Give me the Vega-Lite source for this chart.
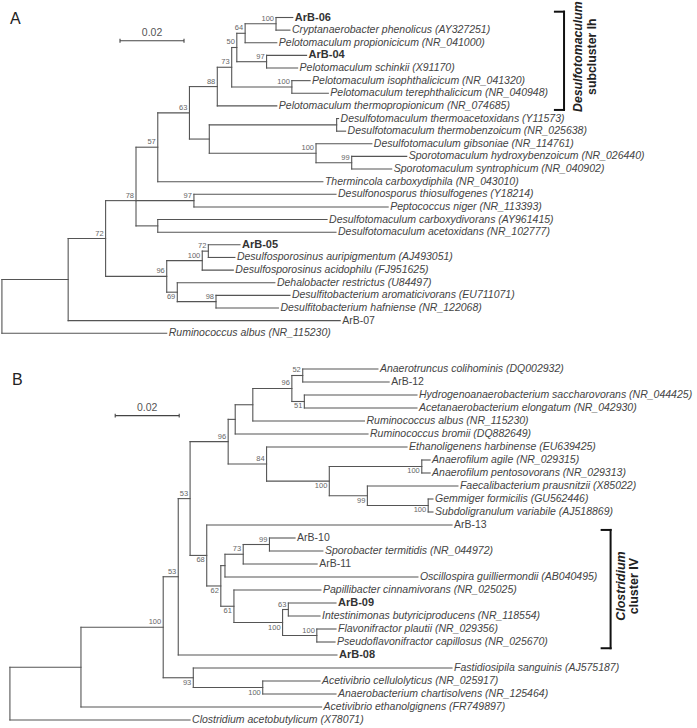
{
  "$schema": "https://vega.github.io/schema/vega-lite/v6.json",
  "padding": 0,
  "spacing": 0,
  "background": "white",
  "config": {"view": {"stroke": null}, "text": {"font": "Liberation Sans"}},
  "resolve": {"scale": {"x": "independent", "y": "independent"}},
  "datasets": {
    "treeA": [
      {"id":"rA","parent":null,"x":0.6,"y":22.875},
      {"id":"a1","parent":"rA","x":21.3,"y":20.75},
      {"id":"L25","parent":"rA","x":52.1,"y":25,"label":"Ruminococcus albus (NR_115230)","kind":"taxon"},
      {"id":"a72","parent":"a1","x":33.0,"y":17.5,"boot":72,"bpos":"above"},
      {"id":"L24","parent":"a1","x":106.3,"y":24,"label":"ArB-07","kind":"isolate"},
      {"id":"a78","parent":"a72","x":42.5,"y":14.5,"boot":78,"bpos":"above"},
      {"id":"a96","parent":"a72","x":52.1,"y":20.5,"boot":96,"bpos":"above"},
      {"id":"a57","parent":"a78","x":49.3,"y":10.27,"boot":57,"bpos":"above"},
      {"id":"a97b","parent":"a78","x":60.6,"y":14.5,"boot":97,"bpos":"above"},
      {"id":"aCarb","parent":"a78","x":49.3,"y":16.5},
      {"id":"a63","parent":"a57","x":59.2,"y":7.55,"boot":63,"bpos":"above"},
      {"id":"L13","parent":"a57","x":100.9,"y":13,"label":"Thermincola carboxydiphila (NR_043010)","kind":"taxon"},
      {"id":"L14","parent":"a97b","x":105,"y":14,"label":"Desulfonosporus thiosulfogenes (Y18214)","kind":"taxon"},
      {"id":"L15","parent":"a97b","x":121.3,"y":15,"label":"Peptococcus niger (NR_113393)","kind":"taxon"},
      {"id":"L16","parent":"aCarb","x":102.2,"y":16,"label":"Desulfotomaculum carboxydivorans (AY961415)","kind":"taxon"},
      {"id":"L17","parent":"aCarb","x":105,"y":17,"label":"Desulfotomaculum acetoxidans (NR_102777)","kind":"taxon"},
      {"id":"a88","parent":"a63","x":67.9,"y":5.47,"boot":88,"bpos":"above"},
      {"id":"aD","parent":"a63","x":65.4,"y":9.625},
      {"id":"aTh","parent":"aD","x":105.2,"y":8.5},
      {"id":"L8","parent":"aTh","x":105.8,"y":8,"label":"Desulfotomaculum thermoacetoxidans (Y11573)","kind":"taxon"},
      {"id":"L9","parent":"aTh","x":108,"y":9,"label":"Desulfotomaculum thermobenzoicum (NR_025638)","kind":"taxon"},
      {"id":"a100c","parent":"aD","x":98.75,"y":10.75,"boot":100,"bpos":"above"},
      {"id":"L10","parent":"a100c","x":116.2,"y":10,"label":"Desulfotomaculum gibsoniae (NR_114761)","kind":"taxon"},
      {"id":"a99","parent":"a100c","x":109.9,"y":11.5,"boot":99,"bpos":"above"},
      {"id":"L11","parent":"a99","x":127.1,"y":11,"label":"Sporotomaculum hydroxybenzoicum (NR_026440)","kind":"taxon"},
      {"id":"L12","parent":"a99","x":122.4,"y":12,"label":"Sporotomaculum syntrophicum (NR_040902)","kind":"taxon"},
      {"id":"a73","parent":"a88","x":72.4,"y":3.94,"boot":73,"bpos":"above"},
      {"id":"L7","parent":"a88","x":86.5,"y":7,"label":"Pelotomaculum thermopropionicum (NR_074685)","kind":"taxon"},
      {"id":"a50","parent":"a73","x":74.0,"y":2.375,"boot":50,"bpos":"above"},
      {"id":"a100b","parent":"a73","x":91.2,"y":5.5,"boot":100,"bpos":"above"},
      {"id":"L5","parent":"a100b","x":96.9,"y":5,"label":"Pelotomaculum isophthalicicum (NR_041320)","kind":"taxon"},
      {"id":"L6","parent":"a100b","x":102.6,"y":6,"label":"Pelotomaculum terephthalicicum (NR_040948)","kind":"taxon"},
      {"id":"a64","parent":"a50","x":76.6,"y":1.25,"boot":64,"bpos":"above"},
      {"id":"a97a","parent":"a50","x":83.3,"y":3.5,"boot":97,"bpos":"above"},
      {"id":"a100a","parent":"a64","x":86.25,"y":0.5,"boot":100,"bpos":"above"},
      {"id":"L2","parent":"a64","x":86.5,"y":2,"label":"Pelotomaculum propionicicum (NR_041000)","kind":"taxon"},
      {"id":"L0","parent":"a100a","x":91.5,"y":0,"label":"ArB-06","kind":"isolate_key"},
      {"id":"L1","parent":"a100a","x":90.6,"y":1,"label":"Cryptanaerobacter phenolicus (AY327251)","kind":"taxon"},
      {"id":"L3","parent":"a97a","x":95.8,"y":3,"label":"ArB-04","kind":"isolate_key"},
      {"id":"L4","parent":"a97a","x":93.0,"y":4,"label":"Pelotomaculum schinkii (X91170)","kind":"taxon"},
      {"id":"a100d","parent":"a96","x":63.2,"y":19.25,"boot":100,"bpos":"above"},
      {"id":"a69","parent":"a96","x":55.4,"y":21.75,"boot":69,"bpos":"below"},
      {"id":"a72b","parent":"a100d","x":65.1,"y":18.5,"boot":72,"bpos":"above"},
      {"id":"L20","parent":"a100d","x":72.9,"y":20,"label":"Desulfosporosinus acidophilu (FJ951625)","kind":"taxon"},
      {"id":"L18","parent":"a72b","x":75,"y":18,"label":"ArB-05","kind":"isolate_key"},
      {"id":"L19","parent":"a72b","x":73.4,"y":19,"label":"Desulfosporosinus auripigmentum (AJ493051)","kind":"taxon"},
      {"id":"L21","parent":"a69","x":85.9,"y":21,"label":"Dehalobacter restrictus (U84497)","kind":"taxon"},
      {"id":"a98","parent":"a69","x":67.5,"y":22.5,"boot":98,"bpos":"above"},
      {"id":"L22","parent":"a98","x":90.6,"y":22,"label":"Desulfitobacterium aromaticivorans (EU711071)","kind":"taxon"},
      {"id":"L23","parent":"a98","x":87.0,"y":23,"label":"Desulfitobacterium hafniense (NR_122068)","kind":"taxon"}
    ],
    "treeB": [
      {"id":"rB","parent":null,"x":3.1,"y":24.97},
      {"id":"bE","parent":"rB","x":25.3,"y":22.94},
      {"id":"M27","parent":"rB","x":59.4,"y":27,"label":"Clostridium acetobutylicum (X78071)","kind":"taxon"},
      {"id":"b100big","parent":"bE","x":51.0,"y":19.87,"boot":100,"bpos":"above"},
      {"id":"M26","parent":"bE","x":100.5,"y":26,"label":"Acetivibrio ethanolgignens (FR749897)","kind":"taxon"},
      {"id":"b53b","parent":"b100big","x":55.7,"y":15.98,"boot":53,"bpos":"above"},
      {"id":"b93","parent":"b100big","x":60.4,"y":23.75,"boot":93,"bpos":"below"},
      {"id":"b53a","parent":"b53b","x":59.4,"y":9.97,"boot":53,"bpos":"above"},
      {"id":"M22","parent":"b53b","x":105.3,"y":22,"label":"ArB-08","kind":"isolate_key"},
      {"id":"M23","parent":"b93","x":141.25,"y":23,"label":"Fastidiosipila sanguinis (AJ575187)","kind":"taxon"},
      {"id":"b100A2","parent":"b93","x":82.1,"y":24.5,"boot":100,"bpos":"below"},
      {"id":"M24","parent":"b100A2","x":100,"y":24,"label":"Acetivibrio cellulolyticus (NR_025917)","kind":"taxon"},
      {"id":"M25","parent":"b100A2","x":105,"y":25,"label":"Anaerobacterium chartisolvens (NR_125464)","kind":"taxon"},
      {"id":"b96b","parent":"b53a","x":71.3,"y":5.59,"boot":96,"bpos":"above"},
      {"id":"b68","parent":"b53a","x":64.6,"y":14.34,"boot":68,"bpos":"below"},
      {"id":"bR2","parent":"b96b","x":73.5,"y":3.875},
      {"id":"b84","parent":"b96b","x":83.3,"y":7.31,"boot":84,"bpos":"above"},
      {"id":"bR1","parent":"bR2","x":79.0,"y":2.75},
      {"id":"M5","parent":"bR2","x":115,"y":5,"label":"Ruminococcus bromii (DQ882649)","kind":"taxon"},
      {"id":"b96a","parent":"bR1","x":91.2,"y":1.5,"boot":96,"bpos":"above"},
      {"id":"M4","parent":"bR1","x":113.9,"y":4,"label":"Ruminococcus albus (NR_115230)","kind":"taxon"},
      {"id":"b52","parent":"b96a","x":94.6,"y":0.5,"boot":52,"bpos":"above"},
      {"id":"b51","parent":"b96a","x":95.1,"y":2.5,"boot":51,"bpos":"below"},
      {"id":"M0","parent":"b52","x":118.1,"y":0,"label":"Anaerotruncus colihominis (DQ002932)","kind":"taxon"},
      {"id":"M1","parent":"b52","x":121.6,"y":1,"label":"ArB-12","kind":"isolate"},
      {"id":"M2","parent":"b51","x":130.3,"y":2,"label":"Hydrogenoanaerobacterium saccharovorans (NR_044425)","kind":"taxon"},
      {"id":"M3","parent":"b51","x":130.3,"y":3,"label":"Acetanaerobacterium elongatum (NR_042930)","kind":"taxon"},
      {"id":"M6","parent":"b84","x":127.2,"y":6,"label":"Ethanoligenens harbinense (EU639425)","kind":"taxon"},
      {"id":"b100y","parent":"b84","x":102.9,"y":8.625,"boot":100,"bpos":"below"},
      {"id":"b100A","parent":"b100y","x":131.8,"y":7.5,"boot":100,"bpos":"below"},
      {"id":"b99","parent":"b100y","x":114.8,"y":9.75,"boot":99,"bpos":"below"},
      {"id":"M7","parent":"b100A","x":134.4,"y":7,"label":"Anaerofilum agile (NR_029315)","kind":"taxon"},
      {"id":"M8","parent":"b100A","x":134.4,"y":8,"label":"Anaerofilum pentosovorans (NR_029313)","kind":"taxon"},
      {"id":"M9","parent":"b99","x":143.1,"y":9,"label":"Faecalibacterium prausnitzii (X85022)","kind":"taxon"},
      {"id":"b100G","parent":"b99","x":133.8,"y":10.5,"boot":100,"bpos":"below"},
      {"id":"M10","parent":"b100G","x":135.3,"y":10,"label":"Gemmiger formicilis (GU562446)","kind":"taxon"},
      {"id":"M11","parent":"b100G","x":135.3,"y":11,"label":"Subdoligranulum variabile (AJ518869)","kind":"taxon"},
      {"id":"M12","parent":"b68","x":141.25,"y":12,"label":"ArB-13","kind":"isolate"},
      {"id":"b62","parent":"b68","x":69.0,"y":16.69,"boot":62,"bpos":"below"},
      {"id":"bO","parent":"b62","x":70.3,"y":15.125},
      {"id":"b61","parent":"b62","x":73.1,"y":18.25,"boot":61,"bpos":"below"},
      {"id":"b73","parent":"bO","x":76.0,"y":14.25,"boot":73,"bpos":"above"},
      {"id":"M16","parent":"bO","x":130.6,"y":16,"label":"Oscillospira guilliermondii (AB040495)","kind":"taxon"},
      {"id":"b99s","parent":"b73","x":84.2,"y":13.5,"boot":99,"bpos":"above"},
      {"id":"M15","parent":"b73","x":99.1,"y":15,"label":"ArB-11","kind":"isolate"},
      {"id":"M13","parent":"b99s","x":92.2,"y":13,"label":"ArB-10","kind":"isolate"},
      {"id":"M14","parent":"b99s","x":100.9,"y":14,"label":"Sporobacter termitidis (NR_044972)","kind":"taxon"},
      {"id":"M17","parent":"b61","x":100.3,"y":17,"label":"Papillibacter cinnamivorans (NR_025025)","kind":"taxon"},
      {"id":"b100I","parent":"b61","x":88.3,"y":19.5,"boot":100,"bpos":"below"},
      {"id":"b63","parent":"b100I","x":90.1,"y":18.5,"boot":63,"bpos":"above"},
      {"id":"b100F","parent":"b100I","x":99.0,"y":20.5,"boot":100,"bpos":"above"},
      {"id":"M18","parent":"b63","x":105,"y":18,"label":"ArB-09","kind":"isolate_key"},
      {"id":"M19","parent":"b63","x":100,"y":19,"label":"Intestinimonas butyriciproducens (NR_118554)","kind":"taxon"},
      {"id":"M20","parent":"b100F","x":105,"y":20,"label":"Flavonifractor plautii (NR_029356)","kind":"taxon"},
      {"id":"M21","parent":"b100F","x":104.7,"y":21,"label":"Pseudoflavonifractor capillosus (NR_025670)","kind":"taxon"}
    ],
    "annA": [
      {"kind":"scalebar","x":37.5,"x2":57.5,"y":1.84,"y2":1.84},
      {"kind":"scalebar","x":37.5,"x2":37.5,"y":1.68,"y2":2.0},
      {"kind":"scalebar","x":57.5,"x2":57.5,"y":1.68,"y2":2.0},
      {"kind":"bracket","x":173.4,"x2":176.25,"y":-0.46,"y2":-0.46},
      {"kind":"bracket","x":176.25,"x2":176.25,"y":-0.46,"y2":7.32},
      {"kind":"bracket","x":173.4,"x2":176.25,"y":7.32,"y2":7.32},
      {"kind":"scalelabel","x":47.5,"y":1.84,"text":"0.02"},
      {"kind":"panel","x":4.8,"y":0.1,"text":"A"},
      {"kind":"cladeName","x":180.6,"y":3.1,"text":"Desulfotomaculum"},
      {"kind":"cladeRank","x":185.0,"y":3.1,"text":"subcluster Ih"}
    ],
    "annB": [
      {"kind":"scalebar","x":36,"x2":56,"y":3.59,"y2":3.59},
      {"kind":"scalebar","x":36,"x2":36,"y":3.44,"y2":3.74},
      {"kind":"scalebar","x":56,"x2":56,"y":3.44,"y2":3.74},
      {"kind":"bracket","x":188.0,"x2":190.8,"y":12.38,"y2":12.38},
      {"kind":"bracket","x":190.8,"x2":190.8,"y":12.38,"y2":21.48},
      {"kind":"bracket","x":188.0,"x2":190.8,"y":21.48,"y2":21.48},
      {"kind":"scalelabel","x":46,"y":3.59,"text":"0.02"},
      {"kind":"panel","x":5.4,"y":0.85,"text":"B"},
      {"kind":"cladeName","x":194.1,"y":16.7,"text":"Clostridium"},
      {"kind":"cladeRank","x":198.1,"y":16.7,"text":"cluster IV"}
    ]
  },
  "vconcat": [
    {
      "width": 697,
      "height": 360,
      "layer": [
        {
          "data": {"name": "treeA"},
          "transform": [
            {"filter": "datum.parent != null"},
            {"lookup": "parent", "from": {"data": {"name": "treeA"}, "key": "id", "fields": ["x"]}, "as": ["px"]}
          ],
          "mark": {"type": "rule", "color": "#555555", "strokeWidth": 1.1, "strokeCap": "square"},
          "encoding": {
            "x": {"field": "px", "type": "quantitative", "scale": {"domain": [0, 217.8], "nice": false, "zero": false}, "axis": null},
            "x2": {"field": "x"},
            "y": {"field": "y", "type": "quantitative", "scale": {"domain": [-1.386, 27.12], "nice": false, "zero": false, "reverse": true}, "axis": null}
          }
        },
        {
          "data": {"name": "treeA"},
          "transform": [
            {"filter": "datum.parent != null"},
            {"aggregate": [{"op": "min", "field": "y", "as": "y1"}, {"op": "max", "field": "y", "as": "y2"}], "groupby": ["parent"]},
            {"lookup": "parent", "from": {"data": {"name": "treeA"}, "key": "id", "fields": ["x"]}, "as": ["nx"]}
          ],
          "mark": {"type": "rule", "color": "#555555", "strokeWidth": 1.1, "strokeCap": "square"},
          "encoding": {
            "x": {"field": "nx", "type": "quantitative", "scale": {"domain": [0, 217.8], "nice": false, "zero": false}, "axis": null},
            "y": {"field": "y1", "type": "quantitative", "scale": {"domain": [-1.386, 27.12], "nice": false, "zero": false, "reverse": true}, "axis": null},
            "y2": {"field": "y2"}
          }
        },
        {
          "data": {"name": "treeA"},
          "transform": [{"filter": "datum.bpos == 'above'"}],
          "mark": {"type": "text", "align": "right", "baseline": "bottom", "dx": -2, "dy": -1, "fontSize": 7.5, "color": "#666666"},
          "encoding": {
            "x": {"field": "x", "type": "quantitative", "scale": {"domain": [0, 217.8], "nice": false, "zero": false}, "axis": null},
            "y": {"field": "y", "type": "quantitative", "scale": {"domain": [-1.386, 27.12], "nice": false, "zero": false, "reverse": true}, "axis": null},
            "text": {"field": "boot", "type": "quantitative", "format": "d"}
          }
        },
        {
          "data": {"name": "treeA"},
          "transform": [{"filter": "datum.bpos == 'below'"}],
          "mark": {"type": "text", "align": "right", "baseline": "top", "dx": -2, "dy": 1, "fontSize": 7.5, "color": "#666666"},
          "encoding": {
            "x": {"field": "x", "type": "quantitative", "scale": {"domain": [0, 217.8], "nice": false, "zero": false}, "axis": null},
            "y": {"field": "y", "type": "quantitative", "scale": {"domain": [-1.386, 27.12], "nice": false, "zero": false, "reverse": true}, "axis": null},
            "text": {"field": "boot", "type": "quantitative", "format": "d"}
          }
        },
        {
          "data": {"name": "treeA"},
          "transform": [{"filter": "datum.kind == 'taxon'"}],
          "mark": {"type": "text", "align": "left", "baseline": "middle", "dx": 2, "fontSize": 10.5, "fontStyle": "italic", "color": "#444444"},
          "encoding": {
            "x": {"field": "x", "type": "quantitative", "scale": {"domain": [0, 217.8], "nice": false, "zero": false}, "axis": null},
            "y": {"field": "y", "type": "quantitative", "scale": {"domain": [-1.386, 27.12], "nice": false, "zero": false, "reverse": true}, "axis": null},
            "text": {"field": "label"}
          }
        },
        {
          "data": {"name": "treeA"},
          "transform": [{"filter": "datum.kind == 'isolate_key'"}],
          "mark": {"type": "text", "align": "left", "baseline": "middle", "dx": 2, "fontSize": 11, "fontWeight": "bold", "color": "#333333"},
          "encoding": {
            "x": {"field": "x", "type": "quantitative", "scale": {"domain": [0, 217.8], "nice": false, "zero": false}, "axis": null},
            "y": {"field": "y", "type": "quantitative", "scale": {"domain": [-1.386, 27.12], "nice": false, "zero": false, "reverse": true}, "axis": null},
            "text": {"field": "label"}
          }
        },
        {
          "data": {"name": "treeA"},
          "transform": [{"filter": "datum.kind == 'isolate'"}],
          "mark": {"type": "text", "align": "left", "baseline": "middle", "dx": 2, "fontSize": 10.5, "color": "#444444"},
          "encoding": {
            "x": {"field": "x", "type": "quantitative", "scale": {"domain": [0, 217.8], "nice": false, "zero": false}, "axis": null},
            "y": {"field": "y", "type": "quantitative", "scale": {"domain": [-1.386, 27.12], "nice": false, "zero": false, "reverse": true}, "axis": null},
            "text": {"field": "label"}
          }
        },
        {
          "data": {"name": "annA"},
          "transform": [{"filter": "datum.kind == 'scalebar'"}],
          "mark": {"type": "rule", "color": "#444444", "strokeWidth": 1.1},
          "encoding": {
            "x": {"field": "x", "type": "quantitative", "scale": {"domain": [0, 217.8], "nice": false, "zero": false}, "axis": null},
            "x2": {"field": "x2"},
            "y": {"field": "y", "type": "quantitative", "scale": {"domain": [-1.386, 27.12], "nice": false, "zero": false, "reverse": true}, "axis": null},
            "y2": {"field": "y2"}
          }
        },
        {
          "data": {"name": "annA"},
          "transform": [{"filter": "datum.kind == 'bracket'"}],
          "mark": {"type": "rule", "color": "#111111", "strokeWidth": 2, "strokeCap": "square"},
          "encoding": {
            "x": {"field": "x", "type": "quantitative", "scale": {"domain": [0, 217.8], "nice": false, "zero": false}, "axis": null},
            "x2": {"field": "x2"},
            "y": {"field": "y", "type": "quantitative", "scale": {"domain": [-1.386, 27.12], "nice": false, "zero": false, "reverse": true}, "axis": null},
            "y2": {"field": "y2"}
          }
        },
        {
          "data": {"name": "annA"},
          "transform": [{"filter": "datum.kind == 'scalelabel'"}],
          "mark": {"type": "text", "align": "center", "baseline": "bottom", "dy": -3, "fontSize": 10.5, "color": "#555555"},
          "encoding": {
            "x": {"field": "x", "type": "quantitative", "scale": {"domain": [0, 217.8], "nice": false, "zero": false}, "axis": null},
            "y": {"field": "y", "type": "quantitative", "scale": {"domain": [-1.386, 27.12], "nice": false, "zero": false, "reverse": true}, "axis": null},
            "text": {"field": "text"}
          }
        },
        {
          "data": {"name": "annA"},
          "transform": [{"filter": "datum.kind == 'panel'"}],
          "mark": {"type": "text", "align": "center", "baseline": "middle", "fontSize": 16, "color": "#222222"},
          "encoding": {
            "x": {"field": "x", "type": "quantitative", "scale": {"domain": [0, 217.8], "nice": false, "zero": false}, "axis": null},
            "y": {"field": "y", "type": "quantitative", "scale": {"domain": [-1.386, 27.12], "nice": false, "zero": false, "reverse": true}, "axis": null},
            "text": {"field": "text"}
          }
        },
        {
          "data": {"name": "annA"},
          "transform": [{"filter": "datum.kind == 'cladeName'"}],
          "mark": {"type": "text", "align": "center", "baseline": "middle", "angle": 270, "fontSize": 12.3, "fontWeight": "bold", "fontStyle": "italic", "color": "#222222"},
          "encoding": {
            "x": {"field": "x", "type": "quantitative", "scale": {"domain": [0, 217.8], "nice": false, "zero": false}, "axis": null},
            "y": {"field": "y", "type": "quantitative", "scale": {"domain": [-1.386, 27.12], "nice": false, "zero": false, "reverse": true}, "axis": null},
            "text": {"field": "text"}
          }
        },
        {
          "data": {"name": "annA"},
          "transform": [{"filter": "datum.kind == 'cladeRank'"}],
          "mark": {"type": "text", "align": "center", "baseline": "middle", "angle": 270, "fontSize": 12.3, "fontWeight": "bold", "color": "#222222"},
          "encoding": {
            "x": {"field": "x", "type": "quantitative", "scale": {"domain": [0, 217.8], "nice": false, "zero": false}, "axis": null},
            "y": {"field": "y", "type": "quantitative", "scale": {"domain": [-1.386, 27.12], "nice": false, "zero": false, "reverse": true}, "axis": null},
            "text": {"field": "text"}
          }
        }
      ]
    },
    {
      "width": 697,
      "height": 368,
      "layer": [
        {
          "data": {"name": "treeB"},
          "transform": [
            {"filter": "datum.parent != null"},
            {"lookup": "parent", "from": {"data": {"name": "treeB"}, "key": "id", "fields": ["x"]}, "as": ["px"]}
          ],
          "mark": {"type": "rule", "color": "#555555", "strokeWidth": 1.1, "strokeCap": "square"},
          "encoding": {
            "x": {"field": "px", "type": "quantitative", "scale": {"domain": [0, 217.8], "nice": false, "zero": false}, "axis": null},
            "x2": {"field": "x"},
            "y": {"field": "y", "type": "quantitative", "scale": {"domain": [-0.692, 27.615], "nice": false, "zero": false, "reverse": true}, "axis": null}
          }
        },
        {
          "data": {"name": "treeB"},
          "transform": [
            {"filter": "datum.parent != null"},
            {"aggregate": [{"op": "min", "field": "y", "as": "y1"}, {"op": "max", "field": "y", "as": "y2"}], "groupby": ["parent"]},
            {"lookup": "parent", "from": {"data": {"name": "treeB"}, "key": "id", "fields": ["x"]}, "as": ["nx"]}
          ],
          "mark": {"type": "rule", "color": "#555555", "strokeWidth": 1.1, "strokeCap": "square"},
          "encoding": {
            "x": {"field": "nx", "type": "quantitative", "scale": {"domain": [0, 217.8], "nice": false, "zero": false}, "axis": null},
            "y": {"field": "y1", "type": "quantitative", "scale": {"domain": [-0.692, 27.615], "nice": false, "zero": false, "reverse": true}, "axis": null},
            "y2": {"field": "y2"}
          }
        },
        {
          "data": {"name": "treeB"},
          "transform": [{"filter": "datum.bpos == 'above'"}],
          "mark": {"type": "text", "align": "right", "baseline": "bottom", "dx": -2, "dy": -1, "fontSize": 7.5, "color": "#666666"},
          "encoding": {
            "x": {"field": "x", "type": "quantitative", "scale": {"domain": [0, 217.8], "nice": false, "zero": false}, "axis": null},
            "y": {"field": "y", "type": "quantitative", "scale": {"domain": [-0.692, 27.615], "nice": false, "zero": false, "reverse": true}, "axis": null},
            "text": {"field": "boot", "type": "quantitative", "format": "d"}
          }
        },
        {
          "data": {"name": "treeB"},
          "transform": [{"filter": "datum.bpos == 'below'"}],
          "mark": {"type": "text", "align": "right", "baseline": "top", "dx": -2, "dy": 1, "fontSize": 7.5, "color": "#666666"},
          "encoding": {
            "x": {"field": "x", "type": "quantitative", "scale": {"domain": [0, 217.8], "nice": false, "zero": false}, "axis": null},
            "y": {"field": "y", "type": "quantitative", "scale": {"domain": [-0.692, 27.615], "nice": false, "zero": false, "reverse": true}, "axis": null},
            "text": {"field": "boot", "type": "quantitative", "format": "d"}
          }
        },
        {
          "data": {"name": "treeB"},
          "transform": [{"filter": "datum.kind == 'taxon'"}],
          "mark": {"type": "text", "align": "left", "baseline": "middle", "dx": 2, "fontSize": 10.5, "fontStyle": "italic", "color": "#444444"},
          "encoding": {
            "x": {"field": "x", "type": "quantitative", "scale": {"domain": [0, 217.8], "nice": false, "zero": false}, "axis": null},
            "y": {"field": "y", "type": "quantitative", "scale": {"domain": [-0.692, 27.615], "nice": false, "zero": false, "reverse": true}, "axis": null},
            "text": {"field": "label"}
          }
        },
        {
          "data": {"name": "treeB"},
          "transform": [{"filter": "datum.kind == 'isolate_key'"}],
          "mark": {"type": "text", "align": "left", "baseline": "middle", "dx": 2, "fontSize": 11, "fontWeight": "bold", "color": "#333333"},
          "encoding": {
            "x": {"field": "x", "type": "quantitative", "scale": {"domain": [0, 217.8], "nice": false, "zero": false}, "axis": null},
            "y": {"field": "y", "type": "quantitative", "scale": {"domain": [-0.692, 27.615], "nice": false, "zero": false, "reverse": true}, "axis": null},
            "text": {"field": "label"}
          }
        },
        {
          "data": {"name": "treeB"},
          "transform": [{"filter": "datum.kind == 'isolate'"}],
          "mark": {"type": "text", "align": "left", "baseline": "middle", "dx": 2, "fontSize": 10.5, "color": "#444444"},
          "encoding": {
            "x": {"field": "x", "type": "quantitative", "scale": {"domain": [0, 217.8], "nice": false, "zero": false}, "axis": null},
            "y": {"field": "y", "type": "quantitative", "scale": {"domain": [-0.692, 27.615], "nice": false, "zero": false, "reverse": true}, "axis": null},
            "text": {"field": "label"}
          }
        },
        {
          "data": {"name": "annB"},
          "transform": [{"filter": "datum.kind == 'scalebar'"}],
          "mark": {"type": "rule", "color": "#444444", "strokeWidth": 1.1},
          "encoding": {
            "x": {"field": "x", "type": "quantitative", "scale": {"domain": [0, 217.8], "nice": false, "zero": false}, "axis": null},
            "x2": {"field": "x2"},
            "y": {"field": "y", "type": "quantitative", "scale": {"domain": [-0.692, 27.615], "nice": false, "zero": false, "reverse": true}, "axis": null},
            "y2": {"field": "y2"}
          }
        },
        {
          "data": {"name": "annB"},
          "transform": [{"filter": "datum.kind == 'bracket'"}],
          "mark": {"type": "rule", "color": "#111111", "strokeWidth": 2, "strokeCap": "square"},
          "encoding": {
            "x": {"field": "x", "type": "quantitative", "scale": {"domain": [0, 217.8], "nice": false, "zero": false}, "axis": null},
            "x2": {"field": "x2"},
            "y": {"field": "y", "type": "quantitative", "scale": {"domain": [-0.692, 27.615], "nice": false, "zero": false, "reverse": true}, "axis": null},
            "y2": {"field": "y2"}
          }
        },
        {
          "data": {"name": "annB"},
          "transform": [{"filter": "datum.kind == 'scalelabel'"}],
          "mark": {"type": "text", "align": "center", "baseline": "bottom", "dy": -3, "fontSize": 10.5, "color": "#555555"},
          "encoding": {
            "x": {"field": "x", "type": "quantitative", "scale": {"domain": [0, 217.8], "nice": false, "zero": false}, "axis": null},
            "y": {"field": "y", "type": "quantitative", "scale": {"domain": [-0.692, 27.615], "nice": false, "zero": false, "reverse": true}, "axis": null},
            "text": {"field": "text"}
          }
        },
        {
          "data": {"name": "annB"},
          "transform": [{"filter": "datum.kind == 'panel'"}],
          "mark": {"type": "text", "align": "center", "baseline": "middle", "fontSize": 16, "color": "#222222"},
          "encoding": {
            "x": {"field": "x", "type": "quantitative", "scale": {"domain": [0, 217.8], "nice": false, "zero": false}, "axis": null},
            "y": {"field": "y", "type": "quantitative", "scale": {"domain": [-0.692, 27.615], "nice": false, "zero": false, "reverse": true}, "axis": null},
            "text": {"field": "text"}
          }
        },
        {
          "data": {"name": "annB"},
          "transform": [{"filter": "datum.kind == 'cladeName'"}],
          "mark": {"type": "text", "align": "center", "baseline": "middle", "angle": 270, "fontSize": 12.5, "fontWeight": "bold", "fontStyle": "italic", "color": "#222222"},
          "encoding": {
            "x": {"field": "x", "type": "quantitative", "scale": {"domain": [0, 217.8], "nice": false, "zero": false}, "axis": null},
            "y": {"field": "y", "type": "quantitative", "scale": {"domain": [-0.692, 27.615], "nice": false, "zero": false, "reverse": true}, "axis": null},
            "text": {"field": "text"}
          }
        },
        {
          "data": {"name": "annB"},
          "transform": [{"filter": "datum.kind == 'cladeRank'"}],
          "mark": {"type": "text", "align": "center", "baseline": "middle", "angle": 270, "fontSize": 12.5, "fontWeight": "bold", "color": "#222222"},
          "encoding": {
            "x": {"field": "x", "type": "quantitative", "scale": {"domain": [0, 217.8], "nice": false, "zero": false}, "axis": null},
            "y": {"field": "y", "type": "quantitative", "scale": {"domain": [-0.692, 27.615], "nice": false, "zero": false, "reverse": true}, "axis": null},
            "text": {"field": "text"}
          }
        }
      ]
    }
  ]
}
